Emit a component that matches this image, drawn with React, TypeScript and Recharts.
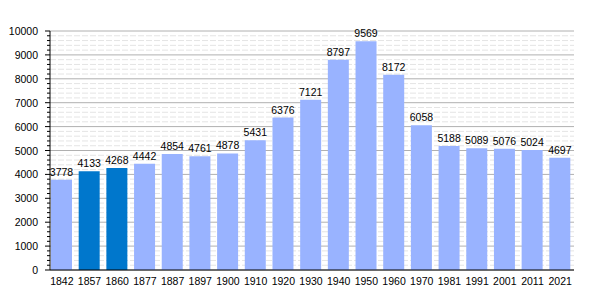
import { BarChart, Bar, XAxis, YAxis, CartesianGrid, Cell, LabelList } from 'recharts';

const years = ['1842', '1857', '1860', '1877', '1887', '1897', '1900', '1910', '1920', '1930', '1940', '1950', '1960', '1970', '1981', '1991', '2001', '2011', '2021'];
const population = [3778, 4133, 4268, 4442, 4854, 4761, 4878, 5431, 6376, 7121, 8797, 9569, 8172, 6058, 5188, 5089, 5076, 5024, 4697];
const highlighted = ['1857', '1860'];
const majorTicks = [0, 1000, 2000, 3000, 4000, 5000, 6000, 7000, 8000, 9000, 10000];
const minorTicks = [
  200, 400, 600, 800, 1200, 1400, 1600, 1800, 2200, 2400, 2600, 2800, 3200, 3400, 3600, 3800,
  4200, 4400, 4600, 4800, 5200, 5400, 5600, 5800, 6200, 6400, 6600, 6800, 7200, 7400, 7600, 7800,
  8200, 8400, 8600, 8800, 9200, 9400, 9600, 9800,
];
const allTicks = [...majorTicks, ...minorTicks].sort((a, b) => a - b);

const data = years.map((year, i) => ({ year, value: population[i] }));

const FONT = '"Liberation Sans", Arial, sans-serif';

function YTick({ y, payload }: any) {
  const major = payload.value % 1000 === 0;
  return (
    <g>
      <line x1={50 - (major ? 5 : 3)} x2={50} y1={y} y2={y} stroke="#000" strokeWidth={1} />
      {major && (
        <text x={38} y={y} dy={4} textAnchor="end" fontSize={10.5} fontFamily={FONT} fill="#000">
          {payload.value}
        </text>
      )}
    </g>
  );
}

export default function App() {
  return (
    <div style={{ position: 'absolute', left: 0, top: 0, width: 600, height: 300, background: '#fff' }}>
      <BarChart width={600} height={300} data={data} margin={{ top: 31, right: 26, left: 0, bottom: 0 }}>
        <CartesianGrid vertical={false} horizontalValues={minorTicks} stroke="#e4e4e4" strokeDasharray="6 2" />
        <CartesianGrid vertical={false} horizontalValues={majorTicks} stroke="#b0b0b0" />
        <XAxis
          dataKey="year"
          height={30}
          tickLine={false}
          axisLine={{ stroke: '#000' }}
          tick={{ fontSize: 10.5, fill: '#000', fontFamily: FONT }}
          interval={0}
          tickMargin={2}
          padding={{ left: -2, right: 0 }}
        />
        <YAxis
          width={50}
          domain={[0, 10000]}
          ticks={allTicks}
          interval={0}
          tickLine={false}
          axisLine={{ stroke: '#000' }}
          tick={<YTick />}
        />
        <Bar dataKey="value" barSize={21} isAnimationActive={false}>
          {data.map((d) => (
            <Cell key={d.year} fill={highlighted.includes(d.year) ? '#0077cc' : '#99b3ff'} />
          ))}
          <LabelList dataKey="value" position="top" offset={4} fontSize={10.5} fill="#000" fontFamily={FONT} />
        </Bar>
      </BarChart>
    </div>
  );
}
